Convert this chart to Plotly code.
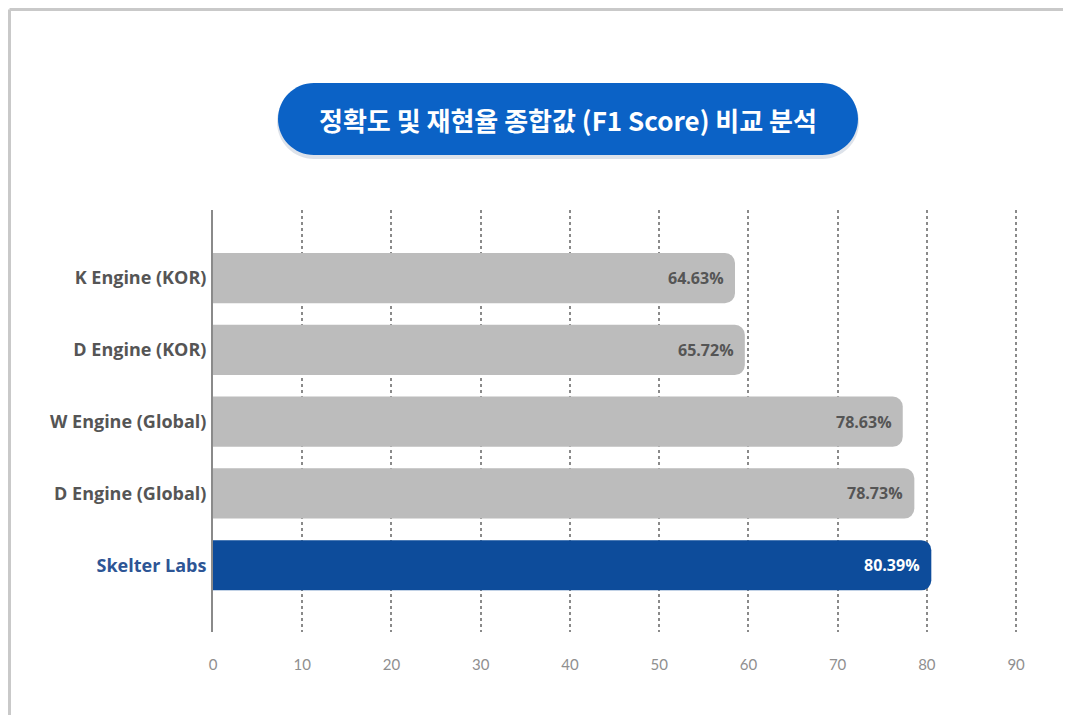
import plotly.graph_objects as go

# ---- data ----
categories = ["K Engine (KOR)", "D Engine (KOR)", "W Engine (Global)", "D Engine (Global)", "Skelter Labs"]
score_labels = [64.63, 65.72, 78.63, 78.73, 80.39]          # printed values
bar_lengths = [58.5, 59.6, 77.3, 78.6, 80.5]                # bar lengths as drawn on the axis
bar_colors = ["#bcbcbc", "#bcbcbc", "#bcbcbc", "#bcbcbc", "#0d4c9b"]
text_colors = ["#555555", "#555555", "#555555", "#555555", "#ffffff"]
x_ticks = [0, 10, 20, 30, 40, 50, 60, 70, 80, 90]
title_text = "정확도 및 재현율 종합값 (F1 Score) 비교 분석"

# page has an 8px body margin; figure coordinates = page coordinates - 8
OFF = 8
W, H = 1063, 707
L = 213 - OFF
T = 210 - OFF
R = W - (1025 - OFF)
B = H - (632 - OFF)
pw, ph = W - L - R, H - T - B

def px_to_paper(x, y):
    # x, y in page pixels
    return (x - OFF - L) / pw, (H - B - (y - OFF)) / ph

tick_text = []
for c in categories:
    if c == "Skelter Labs":
        tick_text.append(f"<b><span style='color:#2d5595'>{c}</span></b>")
    else:
        tick_text.append(f"<b>{c}</b>")

fig = go.Figure()
fig.add_trace(go.Bar(
    x=bar_lengths, y=categories, orientation="h",
    marker=dict(color=bar_colors, line=dict(width=0), cornerradius=10),
    width=0.7, hoverinfo="skip",
))

for c, v, s, tc in zip(categories, bar_lengths, score_labels, text_colors):
    fig.add_annotation(x=v, y=c, xref="x", yref="y", text=f"<b>{s:.2f}%</b>",
                       showarrow=False, xanchor="right", xshift=-9,
                       font=dict(family="Open Sans, Noto Sans", size=16, color=tc))

# pill title background
def pill_path(cx, cy, w, h):
    r = h / 2
    k = 0.5523 * r
    x0, x1 = cx - w / 2 + r, cx + w / 2 - r
    y0, y1 = cy - r, cy + r
    def P(x, y):
        a, b = px_to_paper(x, y)
        return f"{a:.5f},{b:.5f}"
    return (f"M{P(x0, y0)} L{P(x1, y0)} "
            f"C{P(x1 + k, y0)} {P(x1 + r, cy - k)} {P(x1 + r, cy)} "
            f"C{P(x1 + r, cy + k)} {P(x1 + k, y1)} {P(x1, y1)} "
            f"L{P(x0, y1)} "
            f"C{P(x0 - k, y1)} {P(x0 - r, cy + k)} {P(x0 - r, cy)} "
            f"C{P(x0 - r, cy - k)} {P(x0 - k, y0)} {P(x0, y0)} Z")

shapes = []
shapes.append(dict(type="path", xref="paper", yref="paper", path=pill_path(568, 122, 582, 74),
                   fillcolor="rgba(120,140,170,0.25)", line=dict(width=0), layer="below"))
shapes.append(dict(type="path", xref="paper", yref="paper", path=pill_path(568, 119, 580, 72),
                   fillcolor="#0b62c6", line=dict(width=0)))
# outer frame
fx0, fy0 = px_to_paper(9.5, 9.5)
fx1, fy1 = px_to_paper(1071, 715)
shapes.append(dict(type="line", xref="paper", yref="paper", x0=fx0, y0=fy0, x1=fx1, y1=fy0,
                   line=dict(color="#c9c9c9", width=3)))
shapes.append(dict(type="line", xref="paper", yref="paper", x0=fx0, y0=fy0, x1=fx0, y1=fy1,
                   line=dict(color="#c9c9c9", width=3)))

tx, ty = px_to_paper(568, 119)
fig.add_annotation(x=tx, y=ty, xref="paper", yref="paper", text=f"<b>{title_text}</b>",
                   showarrow=False, xanchor="center", yanchor="middle",
                   font=dict(family="Noto Sans CJK KR", size=26, color="#ffffff"))

fig.update_layout(
    width=W, height=H,
    margin=dict(l=L, r=R, t=T, b=B),
    paper_bgcolor="#ffffff", plot_bgcolor="#ffffff",
    showlegend=False, shapes=shapes,
    xaxis=dict(range=[0, 91], tickvals=x_ticks, ticktext=[str(t) for t in x_ticks],
               showgrid=True, gridcolor="#8a8a8a", griddash="dot", gridwidth=2,
               zeroline=False, showline=False, ticks="", ticklabelstandoff=22,
               tickfont=dict(family="Lato, Noto Sans", size=15, color="#8f8f8f"),
               fixedrange=True),
    yaxis=dict(type="category", categoryorder="array", categoryarray=categories,
               range=[4.93, -0.95], tickvals=categories, ticktext=tick_text,
               showgrid=False, zeroline=False, showline=True, linecolor="#8a8a8a", linewidth=2,
               ticks="", ticklabelstandoff=1,
               tickfont=dict(family="Open Sans, Noto Sans", size=18, color="#555555"),
               fixedrange=True),
)

fig.write_html("out.html")
